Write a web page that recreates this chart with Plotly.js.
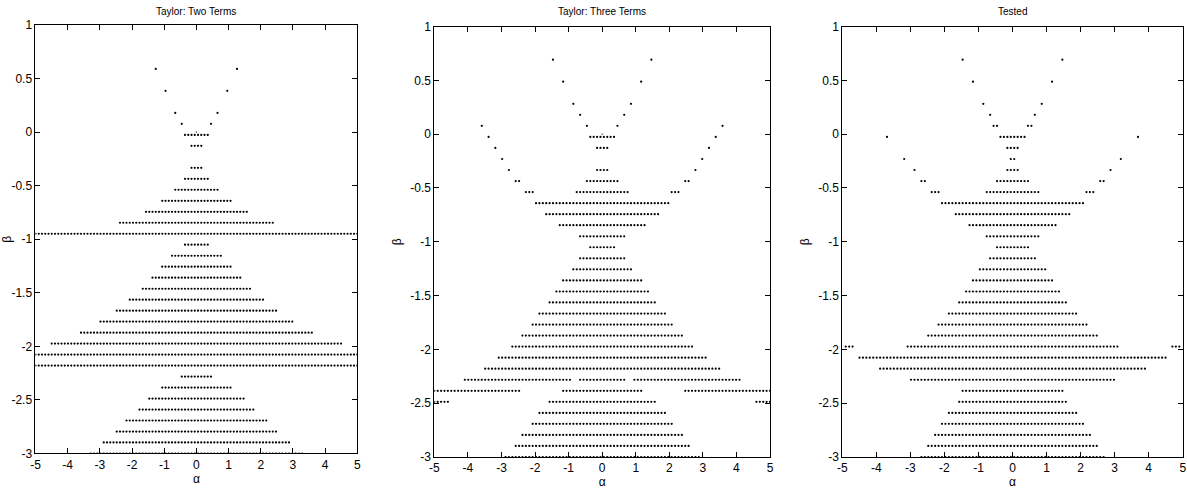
<!DOCTYPE html>
<html><head><meta charset="utf-8">
<script src="https://cdn.plot.ly/plotly-3.0.1.min.js"></script>
<style>html,body{margin:0;padding:0;background:#fff}#chart{width:1187px;height:491px}</style>
</head><body><div id="chart"></div>
<script>
// ---- labels ----
const panelTitles = ['Taylor: Two Terms', 'Taylor: Three Terms', 'Tested'];
const xAxisTitle = 'α';
const yAxisTitle = 'β';
const xTickVals = [-5, -4, -3, -2, -1, 0, 1, 2, 3, 4, 5];
const xTickText = ['-5', '-4', '-3', '-2', '-1', '0', '1', '2', '3', '4', '5'];
const yTickVals = [1, 0.5, 0, -0.5, -1, -1.5, -2, -2.5, -3];
const yTickText = ['1', '0.5', '0', '-0.5', '-1', '-1.5', '-2', '-2.5', '-3'];

// ---- sampling grid in alpha (100 samples on [-5, 5]) ----
const alphaMin = -5, alphaMax = 5, alphaSamples = 100;

// ---- Panel 1: Taylor, two terms. Rows of beta, with alpha runs [from, to] ----
const twoTermsBeta = [0.590, 0.385, 0.179, 0.077, -0.026, -0.128, -0.333, -0.436, -0.538, -0.641,
  -0.744, -0.846, -0.949, -1.051, -1.154, -1.256, -1.359, -1.462, -1.564, -1.667,
  -1.769, -1.872, -1.974, -2.077, -2.179, -2.282, -2.385, -2.487, -2.590, -2.692,
  -2.795, -2.897, -3.000];
const twoTermsRuns = [
  [[-1.26,-1.26],[1.26,1.26]], [[-0.96,-0.96],[0.96,0.96]], [[-0.66,-0.66],[0.66,0.66]], [[-0.45,-0.45],[0.45,0.45]],
  [[-0.35,0.35]], [[-0.15,0.15]], [[-0.15,0.15]], [[-0.35,0.35]], [[-0.66,0.66]], [[-1.06,1.06]],
  [[-1.57,1.57]], [[-2.37,2.37]], [[-5,5]], [[-0.35,0.35]], [[-0.76,0.76]], [[-1.06,1.06]],
  [[-1.36,1.36]], [[-1.67,1.67]], [[-2.07,2.07]], [[-2.47,2.47]],
  [[-2.98,2.98]], [[-3.59,3.59]], [[-4.49,4.49]], [[-5,5]], [[-5,5]], [[-0.45,0.45]],
  [[-1.06,1.06]], [[-1.46,1.46]], [[-1.77,1.77]], [[-2.17,2.17]],
  [[-2.47,2.47]], [[-2.88,2.88]], [[-3.28,3.28]]
];
const twoTermsOrigin = {alpha: [0], beta: [0]};

// ---- Panel 2: Taylor, three terms ----
const threeTermsBeta = [0.692, 0.487, 0.282, 0.179, 0.077, -0.026, -0.128, -0.231, -0.333, -0.436,
  -0.538, -0.641, -0.744, -0.846, -0.949, -1.051, -1.154, -1.256, -1.359, -1.462,
  -1.564, -1.667, -1.769, -1.872, -1.974, -2.077, -2.179, -2.282, -2.385, -2.487,
  -2.590, -2.692, -2.795, -2.897, -3.000];
const threeTermsRuns = [
  [[-1.46,-1.46],[1.46,1.46]], [[-1.16,-1.16],[1.16,1.16]], [[-0.86,-0.86],[0.86,0.86]], [[-0.66,-0.66],[0.66,0.66]],
  [[-3.59,-3.59],[-0.45,-0.45],[0.45,0.45],[3.59,3.59]],
  [[-3.38,-3.38],[-0.35,0.35],[3.38,3.38]],
  [[-3.18,-3.18],[-0.15,0.15],[3.18,3.18]],
  [[-2.98,-2.98],[2.98,2.98]],
  [[-2.78,-2.78],[-0.15,0.15],[2.78,2.78]],
  [[-2.58,-2.47],[-0.45,0.45],[2.47,2.58]],
  [[-2.27,-2.07],[-0.76,0.76],[2.07,2.27]],
  [[-1.97,1.97]], [[-1.67,1.67]], [[-1.26,1.26]], [[-0.66,0.66]], [[-0.35,0.35]],
  [[-0.66,0.66]], [[-0.86,0.86]], [[-1.16,1.16]], [[-1.36,1.36]],
  [[-1.57,1.57]], [[-1.87,1.87]], [[-2.07,2.07]], [[-2.37,2.37]], [[-2.68,2.68]],
  [[-3.08,3.08]], [[-3.48,3.48]],
  [[-4.09,-0.96],[-0.66,0.66],[0.96,4.09]],
  [[-5,-2.47],[-1.16,1.16],[2.47,5]],
  [[-5,-4.60],[-1.57,1.57],[4.60,5]],
  [[-1.87,1.87]], [[-2.07,2.07]], [[-2.37,2.37]], [[-2.58,2.58]], [[-2.88,2.88]]
];
const threeTermsOrigin = {alpha: [0], beta: [0]};

// ---- Panel 3: tested ----
const testedBeta = [0.692, 0.487, 0.282, 0.179, 0.077, -0.026, -0.128, -0.231, -0.333, -0.436,
  -0.538, -0.641, -0.744, -0.846, -0.949, -1.051, -1.154, -1.256, -1.359, -1.462,
  -1.564, -1.667, -1.769, -1.872, -1.974, -2.077, -2.179, -2.282, -2.385, -2.487,
  -2.590, -2.692, -2.795, -2.897, -3.000];
const testedRuns = [
  [[-1.46,-1.46],[1.46,1.46]], [[-1.16,-1.16],[1.16,1.16]], [[-0.86,-0.86],[0.86,0.86]], [[-0.66,-0.66],[0.66,0.66]],
  [[-0.56,-0.45],[0.45,0.56]],
  [[-3.69,-3.69],[-0.35,0.35],[3.69,3.69]],
  [[-0.15,0.15]],
  [[-3.18,-3.18],[-0.05,0.05],[3.18,3.18]],
  [[-2.88,-2.88],[-0.15,0.15],[2.88,2.88]],
  [[-2.68,-2.58],[-0.45,0.45],[2.58,2.68]],
  [[-2.37,-2.17],[-0.76,0.76],[2.17,2.37]],
  [[-2.07,2.07]], [[-1.67,1.67]], [[-1.26,1.26]], [[-0.76,0.76]], [[-0.45,0.45]],
  [[-0.66,0.66]], [[-0.96,0.96]], [[-1.16,1.16]], [[-1.36,1.36]],
  [[-1.57,1.57]], [[-1.87,1.87]], [[-2.17,2.17]], [[-2.47,2.47]],
  [[-4.90,-4.70],[-3.08,3.08],[4.70,4.90]],
  [[-4.49,4.49]], [[-3.89,3.89]], [[-2.98,2.98]], [[-1.46,1.46]], [[-1.57,1.57]],
  [[-1.87,1.87]], [[-2.07,2.07]], [[-2.27,2.27]], [[-2.47,2.47]], [[-2.68,2.68]]
];

// ---- build points on the alpha sampling grid ----
const alphaGrid = [];
for (let j = 0; j < alphaSamples; j++) alphaGrid.push(alphaMin + j * (alphaMax - alphaMin) / (alphaSamples - 1));

function expand(betas, runs) {
  const xs = [], ys = [];
  betas.forEach((b, i) => {
    runs[i].forEach(([a0, a1]) => {
      alphaGrid.forEach(a => { if (a >= a0 - 0.03 && a <= a1 + 0.03) { xs.push(a); ys.push(b); } });
    });
  });
  return {xs, ys};
}

const panels = [
  {beta: twoTermsBeta, runs: twoTermsRuns, origin: twoTermsOrigin},
  {beta: threeTermsBeta, runs: threeTermsRuns, origin: threeTermsOrigin},
  {beta: testedBeta, runs: testedRuns, origin: null}
];

const xDomains = [[0.0299, 0.3010], [0.3659, 0.6487], [0.7096, 0.9964]];
const yDomains = [[0.0764, 0.9491], [0.0692, 0.9460], [0.0692, 0.9460]];

const FONT = 'Liberation Sans Narrow, Arial Narrow, Liberation Sans, Arial, sans-serif';
const traces = [];
const layout = {
  width: 1187, height: 491,
  margin: {l: 0, r: 0, t: 0, b: 0},
  paper_bgcolor: '#fff', plot_bgcolor: '#fff',
  showlegend: false,
  font: {family: FONT, color: '#000', size: 12},
  annotations: []
};

panels.forEach((p, i) => {
  const n = i === 0 ? '' : String(i + 1);
  const pts = expand(p.beta, p.runs);
  traces.push({
    type: 'scatter', mode: 'markers', x: pts.xs, y: pts.ys,
    xaxis: 'x' + n, yaxis: 'y' + n,
    marker: {size: 2.2, color: '#000', line: {width: 0}},
    hoverinfo: 'skip'
  });
  if (p.origin) {
    traces.push({
      type: 'scatter', mode: 'markers', x: p.origin.alpha, y: p.origin.beta,
      xaxis: 'x' + n, yaxis: 'y' + n,
      marker: {size: 1.5, color: '#444', line: {width: 0}},
      hoverinfo: 'skip'
    });
  }
  const common = {
    showgrid: false, zeroline: false, showline: true, linecolor: '#000', linewidth: 1,
    mirror: 'ticks', ticks: 'inside', ticklen: 5, tickwidth: 1, tickcolor: '#000',
    tickfont: {family: FONT, size: 12, color: '#000'}, automargin: false, fixedrange: true
  };
  layout['xaxis' + n] = Object.assign({}, common, {
    domain: xDomains[i], range: [-5, 5], anchor: 'y' + n,
    tickmode: 'array', tickvals: xTickVals, ticktext: xTickText,
    title: {text: xAxisTitle, font: {family: FONT, size: 12}, standoff: 0}
  });
  layout['yaxis' + n] = Object.assign({}, common, {
    domain: yDomains[i], range: [-3, 1], anchor: 'x' + n,
    tickmode: 'array', tickvals: yTickVals, ticktext: yTickText,
    ticklabelstandoff: 0,
    title: {text: yAxisTitle, font: {family: FONT, size: 12}, standoff: 6}
  });
  layout.annotations.push({
    text: panelTitles[i], xref: 'paper', yref: 'paper',
    x: (xDomains[i][0] + xDomains[i][1]) / 2, y: 1 - 12 / 491,
    xanchor: 'center', yanchor: 'middle', showarrow: false,
    font: {family: FONT, size: 10, color: '#000'}
  });
});

Plotly.newPlot('chart', traces, layout, {staticPlot: true, displayModeBar: false});
</script>
</body></html>
